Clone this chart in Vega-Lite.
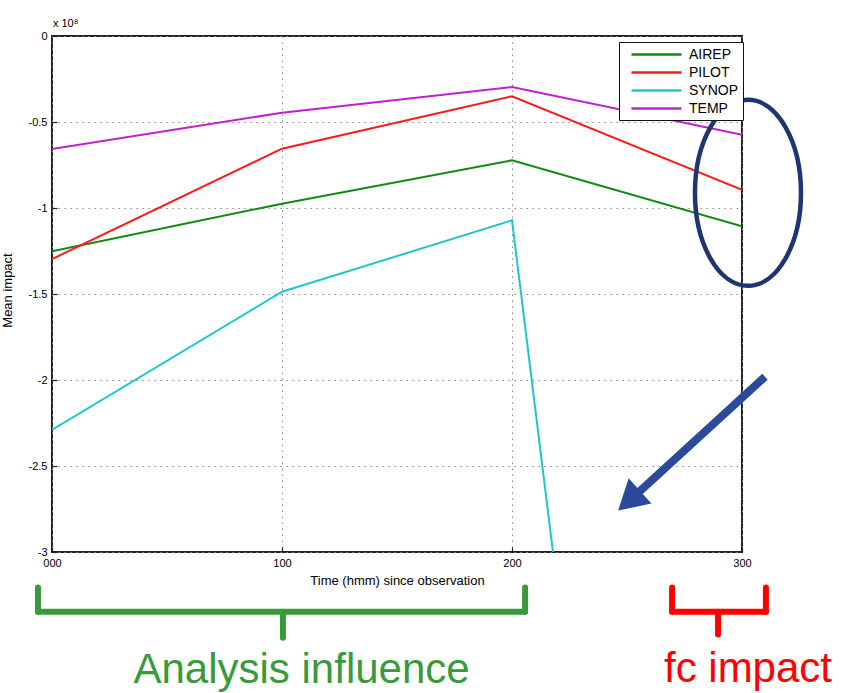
{
  "$schema": "https://vega.github.io/schema/vega-lite/v6.json",
  "autosize": {"type": "none"},
  "width": 690,
  "height": 516,
  "padding": {"left": 52, "top": 36, "right": 103, "bottom": 141},
  "background": "white",
  "config": {
    "view": {"stroke": "#222", "strokeWidth": 2},
    "font": "Liberation Sans",
    "axis": {
      "labelFont": "Liberation Sans",
      "labelFontSize": 11,
      "labelColor": "#000",
      "titleFont": "Liberation Sans",
      "titleFontSize": 13,
      "titleFontWeight": "normal",
      "titleColor": "#000",
      "domain": false,
      "tickColor": "#222",
      "tickSize": -5,
      "tickWidth": 1.2,
      "labelPadding": 10,
      "gridColor": "#888",
      "gridDash": [1.5, 4.5],
      "gridWidth": 1
    }
  },
  "layer": [
    {
      "data": {
        "values": [
          {"t": 0, "v": -1.252, "s": "AIREP"},
          {"t": 100, "v": -0.975, "s": "AIREP"},
          {"t": 200, "v": -0.723, "s": "AIREP"},
          {"t": 300, "v": -1.107, "s": "AIREP"},
          {"t": 0, "v": -1.297, "s": "PILOT"},
          {"t": 100, "v": -0.655, "s": "PILOT"},
          {"t": 200, "v": -0.351, "s": "PILOT"},
          {"t": 300, "v": -0.894, "s": "PILOT"},
          {"t": 0, "v": -2.29, "s": "SYNOP"},
          {"t": 100, "v": -1.487, "s": "SYNOP"},
          {"t": 200, "v": -1.072, "s": "SYNOP"},
          {"t": 300, "v": -11.9, "s": "SYNOP"},
          {"t": 0, "v": -0.657, "s": "TEMP"},
          {"t": 100, "v": -0.446, "s": "TEMP"},
          {"t": 200, "v": -0.297, "s": "TEMP"},
          {"t": 300, "v": -0.574, "s": "TEMP"}
        ]
      },
      "mark": {"type": "line", "clip": true, "strokeWidth": 2},
      "encoding": {
        "x": {
          "field": "t",
          "type": "quantitative",
          "scale": {"domain": [0, 300], "nice": false, "zero": false},
          "axis": {
            "title": "Time (hmm) since observation",
            "values": [0, 100, 200, 300],
            "grid": true,
            "labelExpr": "datum.value == 0 ? '000' : '' + datum.value",
            "labelFlush": false,
            "titlePadding": 6
          }
        },
        "y": {
          "field": "v",
          "type": "quantitative",
          "scale": {"domain": [-3, 0], "nice": false, "zero": false},
          "axis": {
            "title": "Mean impact",
            "values": [0, -0.5, -1, -1.5, -2, -2.5, -3],
            "grid": true,
            "labelExpr": "'' + datum.value",
            "labelFlush": false,
            "titleX": -45,
            "titleY": 254,
            "titleAngle": -90,
            "titleAlign": "center",
            "titleBaseline": "middle"
          }
        },
        "color": {
          "field": "s",
          "type": "nominal",
          "scale": {
            "domain": ["AIREP", "PILOT", "SYNOP", "TEMP"],
            "range": ["#118a11", "#ff1a1a", "#1fc8c8", "#c21fd0"]
          },
          "legend": {
            "title": null,
            "orient": "none",
            "legendX": 567,
            "legendY": 6,
            "symbolType": "M 0 0 L 7.14 0",
            "symbolSize": 196,
            "symbolStrokeWidth": 2.5,
            "labelFont": "Liberation Sans",
            "labelFontSize": 14,
            "labelColor": "#000",
            "labelOffset": 49,
            "rowPadding": 2,
            "padding": 4,
            "fillColor": "white",
            "strokeColor": "#111"
          }
        }
      }
    },
    {
      "data": {"values": [{"t": 0.4, "v": 0.054, "label": "x 10⁸"}]},
      "mark": {"type": "text", "align": "left", "baseline": "alphabetic", "fontSize": 11, "font": "Liberation Sans", "color": "#000"},
      "encoding": {
        "x": {"field": "t", "type": "quantitative"},
        "y": {"field": "v", "type": "quantitative"},
        "text": {"field": "label"}
      }
    },
    {
      "data": {"values": [{"t": 302.6, "v": -0.912}]},
      "mark": {
        "type": "point",
        "shape": "M -0.57 0 A 0.57 1 0 1 0 0.57 0 A 0.57 1 0 1 0 -0.57 0 Z",
        "size": 34596,
        "filled": false,
        "stroke": "#1f3470",
        "strokeWidth": 4.5,
        "opacity": 1
      },
      "encoding": {
        "x": {"field": "t", "type": "quantitative"},
        "y": {"field": "v", "type": "quantitative"}
      }
    },
    {
      "data": {"values": [{"t": 310, "v": -1.981, "t2": 253.9, "v2": -2.667}]},
      "mark": {"type": "rule", "color": "#2b4a9b", "strokeWidth": 8, "strokeCap": "butt"},
      "encoding": {
        "x": {"field": "t", "type": "quantitative"},
        "y": {"field": "v", "type": "quantitative"},
        "x2": {"field": "t2"},
        "y2": {"field": "v2"}
      }
    },
    {
      "data": {"values": [{"t": 250.9, "v": -2.702}]},
      "mark": {"type": "point", "shape": "triangle-up", "size": 1156, "filled": true, "color": "#2b4a9b", "angle": 228, "opacity": 1},
      "encoding": {
        "x": {"field": "t", "type": "quantitative"},
        "y": {"field": "v", "type": "quantitative"}
      }
    },
    {
      "data": {
        "values": [
          {"t": -6.1, "v": -3.207, "t2": -6.1, "v2": -3.347},
          {"t": -6.1, "v": -3.347, "t2": 205.7, "v2": -3.347},
          {"t": 205.7, "v": -3.207, "t2": 205.7, "v2": -3.347},
          {"t": 100.4, "v": -3.347, "t2": 100.4, "v2": -3.498}
        ]
      },
      "mark": {"type": "rule", "color": "#3a9a3a", "strokeWidth": 6, "strokeCap": "round"},
      "encoding": {
        "x": {"field": "t", "type": "quantitative"},
        "y": {"field": "v", "type": "quantitative"},
        "x2": {"field": "t2"},
        "y2": {"field": "v2"}
      }
    },
    {
      "data": {
        "values": [
          {"t": 269.6, "v": -3.207, "t2": 269.6, "v2": -3.347},
          {"t": 269.6, "v": -3.347, "t2": 310.4, "v2": -3.347},
          {"t": 310.4, "v": -3.207, "t2": 310.4, "v2": -3.347},
          {"t": 289.6, "v": -3.347, "t2": 289.6, "v2": -3.48}
        ]
      },
      "mark": {"type": "rule", "color": "#ff0000", "strokeWidth": 6, "strokeCap": "round"},
      "encoding": {
        "x": {"field": "t", "type": "quantitative"},
        "y": {"field": "v", "type": "quantitative"},
        "x2": {"field": "t2"},
        "y2": {"field": "v2"}
      }
    },
    {
      "data": {"values": [{"t": 108.5, "v": -3.76, "label": "Analysis influence"}]},
      "mark": {"type": "text", "align": "center", "baseline": "alphabetic", "fontSize": 42, "font": "Liberation Sans", "color": "#3a9a3a"},
      "encoding": {
        "x": {"field": "t", "type": "quantitative"},
        "y": {"field": "v", "type": "quantitative"},
        "text": {"field": "label"}
      }
    },
    {
      "data": {"values": [{"t": 302.6, "v": -3.754, "label": "fc impact"}]},
      "mark": {"type": "text", "align": "center", "baseline": "alphabetic", "fontSize": 42, "font": "Liberation Sans", "color": "#ff0000"},
      "encoding": {
        "x": {"field": "t", "type": "quantitative"},
        "y": {"field": "v", "type": "quantitative"},
        "text": {"field": "label"}
      }
    }
  ]
}
